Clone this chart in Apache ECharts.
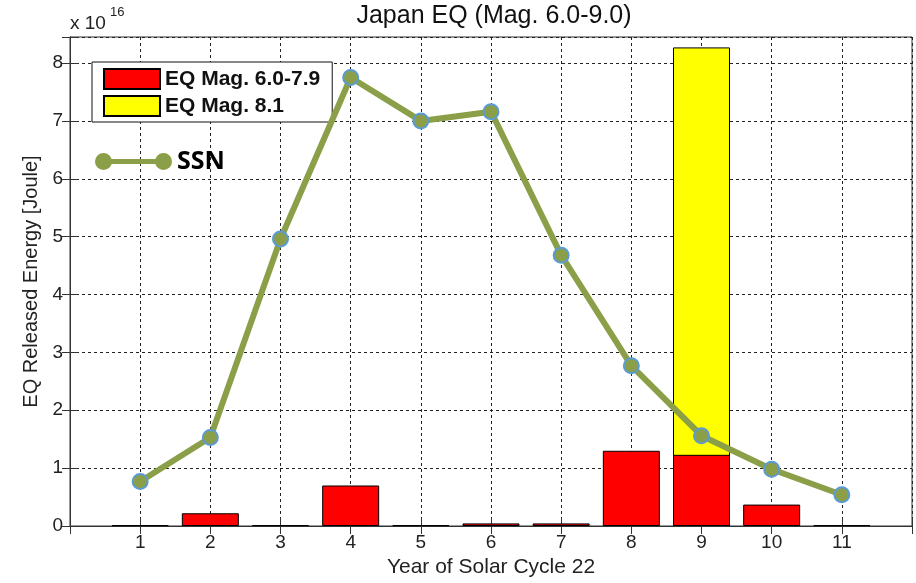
<!DOCTYPE html>
<html>
<head>
<meta charset="utf-8">
<script src="https://cdn.jsdelivr.net/npm/echarts@6/dist/echarts.min.js"></script>
<style>html,body{margin:0;padding:0;background:#fff}#c{width:916px;height:583px}</style>
</head>
<body>
<div id="c"></div>
<script>
// Year of Solar Cycle 22
var years = [1, 2, 3, 4, 5, 6, 7, 8, 9, 10, 11];
// EQ released energy, units of 1e16 Joule
var eqMag6to79 = [0.015, 0.22, 0.015, 0.70, 0.015, 0.045, 0.045, 1.30, 1.23, 0.37, 0.015];
var eqMag81 = [null, null, null, null, null, null, null, null, 7.04, null, null];
// Sunspot number, drawn on the same scale
var ssn = [0.77, 1.53, 4.96, 7.75, 7.00, 7.16, 4.68, 2.77, 1.56, 0.98, 0.54];
var yTicks = [0, 1, 2, 3, 4, 5, 6, 7, 8];

var FONT = 'Liberation Sans, Arial, sans-serif';
var GREEN = '#8A9F48';
var chart = echarts.init(document.getElementById('c'), null, {renderer: 'canvas'});

function pairs(vals) { return years.map(function (y, i) { return [y, vals[i]]; }); }
// Mag 8.1 bar sits on top of the Mag 6.0-7.9 bar of the same year
var mag81Top = eqMag81.map(function (v, i) { return v == null ? null : v + eqMag6to79[i]; });

var ssnIcon = 'path://M0,8.5A8.5,8.5,0,1,1,17,8.5A8.5,8.5,0,1,1,0,8.5Z' +
  'M60,8.5A8.5,8.5,0,1,1,77,8.5A8.5,8.5,0,1,1,60,8.5Z' +
  'M16,6L61,6L61,11L16,11Z';

var gridLine = {show: true, lineStyle: {color: '#222', type: [3, 3], width: 1}};
var axLine = {show: true, lineStyle: {color: '#333', width: 1}};
var tick = {show: true, inside: true, length: 8, lineStyle: {color: '#333'}};

chart.setOption({
  animation: false,
  backgroundColor: '#fff',
  title: {
    text: 'Japan EQ (Mag. 6.0-9.0)',
    left: 489, top: -1, textAlign: 'center',
    textStyle: {fontFamily: FONT, fontSize: 25, fontWeight: 'normal', color: '#111'}
  },
  grid: {left: 70, right: 4, top: 37, bottom: 53, show: true, borderColor: '#333', borderWidth: 1, backgroundColor: '#fff'},
  legend: [
    {
      data: ['EQ Mag. 6.0-7.9', 'EQ Mag. 8.1'],
      orient: 'vertical', left: 92, top: 62,
      icon: 'rect', itemWidth: 56, itemHeight: 20, itemGap: 5, itemTextGap: 5,
      padding: [6, 12, 5, 11],
      backgroundColor: '#fff', borderColor: '#111', borderWidth: 1,
      textStyle: {fontFamily: FONT, fontSize: 21, fontWeight: 'bold', color: '#111'},
      selectedMode: false
    },
    {
      data: [{name: 'SSN', icon: ssnIcon, itemStyle: {color: GREEN, borderWidth: 0}}],
      left: 95, top: 149, padding: 0,
      itemWidth: 77, itemHeight: 17, itemTextGap: 13,
      textStyle: {fontFamily: 'Open Sans, Noto Sans, sans-serif', fontSize: 25, fontWeight: 'bold', color: '#000'},
      selectedMode: false
    }
  ],
  xAxis: [
    {
      type: 'value', min: 0, max: 12, interval: 1, position: 'bottom',
      name: 'Year of Solar Cycle 22', nameLocation: 'middle', nameGap: 31,
      nameTextStyle: {fontFamily: FONT, fontSize: 21, color: '#222'},
      axisLine: axLine, axisTick: tick, splitLine: gridLine,
      axisLabel: {margin: 7, fontFamily: FONT, fontSize: 19, color: '#222',
        formatter: function (v) { return years.indexOf(v) >= 0 ? String(v) : ''; }}
    },
    {
      type: 'value', min: 0, max: 12, interval: 1, position: 'top',
      axisLine: axLine, axisTick: tick, splitLine: {show: false}, axisLabel: {show: false}
    }
  ],
  yAxis: [
    {
      type: 'value', min: 0, max: 8.45, interval: 1, position: 'left',
      name: 'EQ Released Energy [Joule]', nameLocation: 'middle', nameGap: 29,
      nameTextStyle: {fontFamily: FONT, fontSize: 20, color: '#222'},
      axisLine: axLine, axisTick: tick, splitLine: gridLine,
      axisLabel: {margin: 7, fontFamily: FONT, fontSize: 19, color: '#222',
        formatter: function (v) { return yTicks.indexOf(v) >= 0 ? String(v) : ''; }}
    },
    {
      type: 'value', min: 0, max: 8.45, interval: 1, position: 'right',
      axisLine: axLine, axisTick: tick, splitLine: {show: false}, axisLabel: {show: false}
    }
  ],
  graphic: [
    {type: 'text', left: 70, top: 14, style: {text: 'x 10', font: '19px ' + FONT, fill: '#222'}},
    {type: 'text', left: 110, top: 6, style: {text: '16', font: '13px ' + FONT, fill: '#222'}}
  ],
  series: [
    {
      name: 'EQ Mag. 8.1', type: 'bar', barWidth: 57, barGap: '-100%',
      data: pairs(mag81Top),
      itemStyle: {color: '#FFFF00', borderColor: '#000', borderWidth: 1}
    },
    {
      name: 'EQ Mag. 6.0-7.9', type: 'bar', barWidth: 57, barGap: '-100%',
      data: pairs(eqMag6to79),
      itemStyle: {color: '#FF0000', borderColor: '#000', borderWidth: 1}
    },
    {
      name: 'SSN', type: 'line', z: 5,
      data: pairs(ssn),
      symbol: 'circle', symbolSize: 15,
      lineStyle: {color: GREEN, width: 6},
      itemStyle: {color: GREEN, borderColor: '#5B9BD5', borderWidth: 2}
    }
  ]
});
</script>
</body>
</html>
